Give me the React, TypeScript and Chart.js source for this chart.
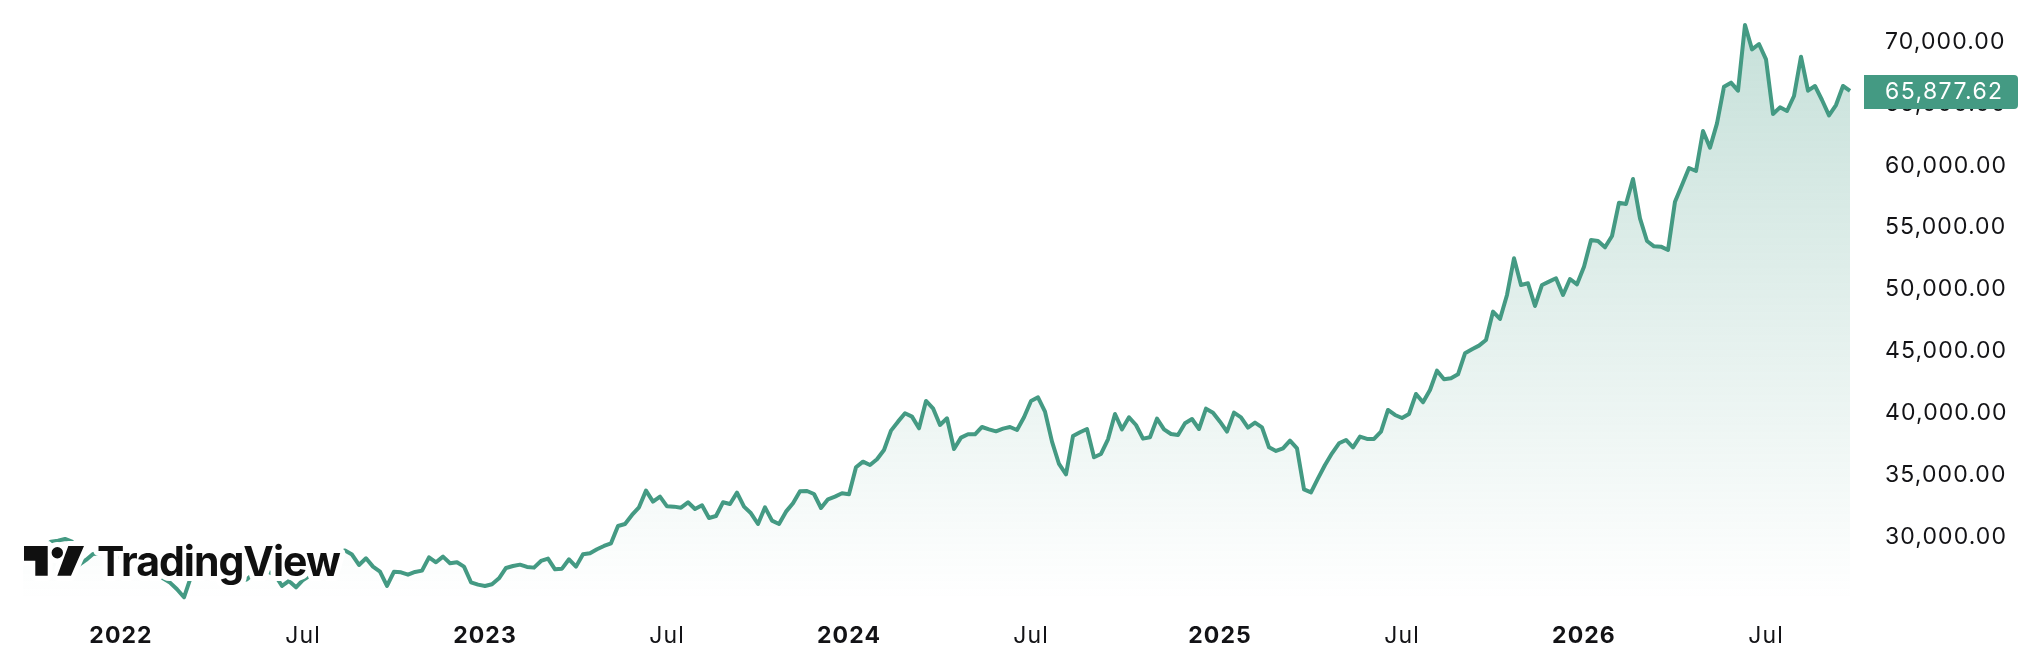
import React, { useEffect, useRef } from "react";
import { Chart, registerables } from "chart.js";

Chart.register(...registerables);

// Weekly closing values, oldest first.
const values2021to2022: number[] = [
  28494, 28628, 28494, 29032, 29437, 29518, 29652, 29437, 27550, 27955, 28440, 28494,
  28628, 27955, 28359, 28089, 27550, 27820, 27281, 26877, 26472, 26122, 25583, 24936,
  26607, 27011, 27416, 27011, 27146, 26877, 26472, 26203, 26391, 26877, 27416, 27011,
  26742, 25852, 26257, 25745, 26337, 26688, 27281, 27955, 28359, 28547,
];
const values2022to2023: number[] = [
  28717, 28394, 27550, 28089, 27416, 27011, 25852, 27011, 26957, 26769, 26984, 27092,
  28170, 27766, 28224, 27685, 27766, 27416, 26149, 25960, 25852, 25987, 26472, 27308,
  27469, 27577, 27389, 27335, 27874, 28062, 27200, 27254, 28008, 27416, 28413, 28494,
  28817, 29086, 29302, 30703, 30865, 31593, 32213, 33560, 32671, 33075, 32293, 32267,
];
const values2023to2024: number[] = [
  32185, 32616, 32077, 32374, 31350, 31511, 32616, 32482, 33398, 32266, 31727, 30865,
  32212, 31134, 30865, 31862, 32536, 33506, 33533, 33290, 32158, 32859, 33075, 33344,
  33263, 35446, 35904, 35635, 36093, 36848, 38411, 39138, 39812, 39543, 38599, 40809,
  40216, 38869, 39408, 36928, 37845, 38114, 38114, 38707, 38518, 38357, 38572, 38707,
  38465,
];
const values2024to2025: number[] = [
  39489, 40809, 41106, 39947, 37521, 35716, 34880, 37979, 38276, 38545, 36255, 36524,
  37710, 39758, 38518, 39489, 38869, 37764, 37872, 39381, 38518, 38141, 38060, 39003,
  39354, 38545, 40189, 39866, 39138, 38330, 39866, 39489, 38653, 39057, 38680, 37063,
  36767, 36982, 37602, 36982, 33667, 33425, 34557, 35635, 36578, 37387, 37656, 37063,
];
const values2025to2026: number[] = [
  37927, 37738, 37738, 38331, 40083, 39678, 39436, 39759, 41376, 40702, 41700, 43263,
  42562, 42643, 42966, 44664, 44987, 45284, 45742, 48033, 47440, 49380, 52345, 50189,
  50323, 48491, 50189, 50458, 50728, 49380, 50674, 50243, 51671, 53827, 53746, 53234,
  54150, 56844,
];
const values2026: number[] = [
  56736, 58758, 55577, 53745, 53314, 53287, 53017, 56925, 58272, 59647, 59404, 62638,
  61291, 63258, 66222, 66546, 65899, 71208, 69241, 69672, 68433, 64013, 64552, 64255,
  65468, 68648, 65899, 66277, 65145, 63905, 64740, 66277, 65877.62,
];
const seriesValues: number[] = [
  ...values2021to2022, ...values2022to2023, ...values2023to2024,
  ...values2024to2025, ...values2025to2026, ...values2026,
];

const xTickLabels = ["2022", "Jul", "2023", "Jul", "2024", "Jul", "2025", "Jul", "2026", "Jul"];
const xTickWeeksFromEnd = [247, 221, 195, 169, 143, 117, 90, 64, 38, 12];
const yTickValues = [30000, 35000, 40000, 45000, 50000, 55000, 60000, 65000, 70000];
const logoText = "TradingView";

const categories: string[] = seriesValues.map(() => "");
xTickLabels.forEach((label, i) => {
  categories[seriesValues.length - 1 - xTickWeeksFromEnd[i]] = label;
});

const GREEN = "#449a83";
const INK = "#131316";
const FONT = "Inter";
const money = (v: number) =>
  v.toLocaleString("en-US", { minimumFractionDigits: 2, maximumFractionDigits: 2 });

const overlay = {
  id: "overlay",
  beforeDraw(chart: any) {
    chart.ctx.letterSpacing = "1.1px";
  },
  afterDraw(chart: any) {
    const { ctx, scales } = chart;
    const last = seriesValues[seriesValues.length - 1];
    const py = scales.y.getPixelForValue(last) + 1;
    ctx.save();
    // last-value badge
    ctx.fillStyle = GREEN;
    ctx.beginPath();
    ctx.roundRect(1864, py - 17, 154, 34, [0, 4, 4, 0]);
    ctx.fill();
    ctx.fillStyle = "#ffffff";
    ctx.font = `400 23px ${FONT}`;
    ctx.letterSpacing = "1.4px";
    ctx.textAlign = "left";
    ctx.textBaseline = "middle";
    ctx.fillText(money(last), 1885, py + 0.5);

    // logo mark
    const mark = new Path2D();
    mark.moveTo(24, 546);
    mark.lineTo(47.7, 546);
    mark.lineTo(47.7, 575.7);
    mark.lineTo(35.3, 575.7);
    mark.lineTo(35.3, 560.7);
    mark.lineTo(24, 560.7);
    mark.closePath();
    mark.moveTo(68.3, 546);
    mark.lineTo(84, 546);
    mark.lineTo(71, 575.7);
    mark.lineTo(57.3, 575.7);
    mark.closePath();
    mark.moveTo(63, 552.7);
    mark.arc(57.3, 552.7, 5.7, 0, Math.PI * 2);
    ctx.lineJoin = "round";
    ctx.strokeStyle = "#ffffff";
    ctx.lineWidth = 10;
    ctx.stroke(mark);
    ctx.fillStyle = "#101010";
    ctx.fill(mark);
    // logo word
    ctx.font = `700 41px ${FONT}`;
    ctx.textBaseline = "alphabetic";
    ctx.letterSpacing = "-1px";
    ctx.strokeStyle = "#ffffff";
    ctx.lineWidth = 10;
    ctx.strokeText(logoText, 97, 575.7);
    ctx.fillStyle = "#101010";
    ctx.fillText(logoText, 97, 575.7);
    ctx.restore();
  },
};

export default function App() {
  const ref = useRef<HTMLCanvasElement>(null);
  useEffect(() => {
    const chart = new Chart(ref.current as HTMLCanvasElement, {
      type: "line",
      data: {
        labels: categories,
        datasets: [
          {
            data: seriesValues,
            borderColor: GREEN,
            borderWidth: 4,
            borderJoinStyle: "round",
            pointRadius: 0,
            tension: 0,
            fill: "start",
            backgroundColor: (c: any) => {
              const area = c.chart.chartArea;
              if (!area) return "transparent";
              const g = c.chart.ctx.createLinearGradient(0, 25, 0, area.bottom);
              g.addColorStop(0, "rgba(68,154,131,0.30)");
              g.addColorStop(1, "rgba(68,154,131,0)");
              return g;
            },
          },
        ],
      },
      options: {
        responsive: false,
        animation: false,
        devicePixelRatio: 1,
        layout: { padding: { left: 23, top: 0, right: 0, bottom: 0 } },
        plugins: { legend: { display: false }, tooltip: { enabled: false } },
        scales: {
          x: {
            type: "category",
            offset: false,
            grid: { display: false, drawTicks: false },
            border: { display: false },
            afterBuildTicks: (s: any) => {
              s.ticks = s.ticks.filter((t: any) => categories[t.value] !== "");
            },
            afterFit: (s: any) => {
              s.height = 69;
              s.paddingLeft = 0;
              s.paddingRight = 0;
            },
            ticks: {
              autoSkip: false,
              maxRotation: 0,
              minRotation: 0,
              padding: 22,
              color: INK,
              font: (c: any) =>
                /^\d+$/.test(String(c.tick?.label))
                  ? { family: FONT, size: 23, weight: 700 }
                  : { family: FONT, size: 23, weight: 400 },
            },
          },
          y: {
            position: "right",
            min: 24718,
            max: 73230,
            grid: { display: false, drawTicks: false },
            border: { display: false },
            afterBuildTicks: (s: any) => {
              s.ticks = yTickValues.map((value) => ({ value }));
            },
            afterFit: (s: any) => {
              s.width = 177;
              s.paddingTop = 0;
              s.paddingBottom = 0;
            },
            ticks: {
              padding: 35,
              labelOffset: 2,
              color: INK,
              font: { family: FONT, size: 23, weight: 400 },
              callback: (v: any) => money(Number(v)),
            },
          },
        },
      },
      plugins: [overlay],
    } as any);
    return () => chart.destroy();
  }, []);
  return (
    <div style={{ position: "absolute", left: 0, top: 0, width: 2027, height: 669 }}>
      <canvas ref={ref} width={2027} height={669} style={{ display: "block" }} />
    </div>
  );
}
